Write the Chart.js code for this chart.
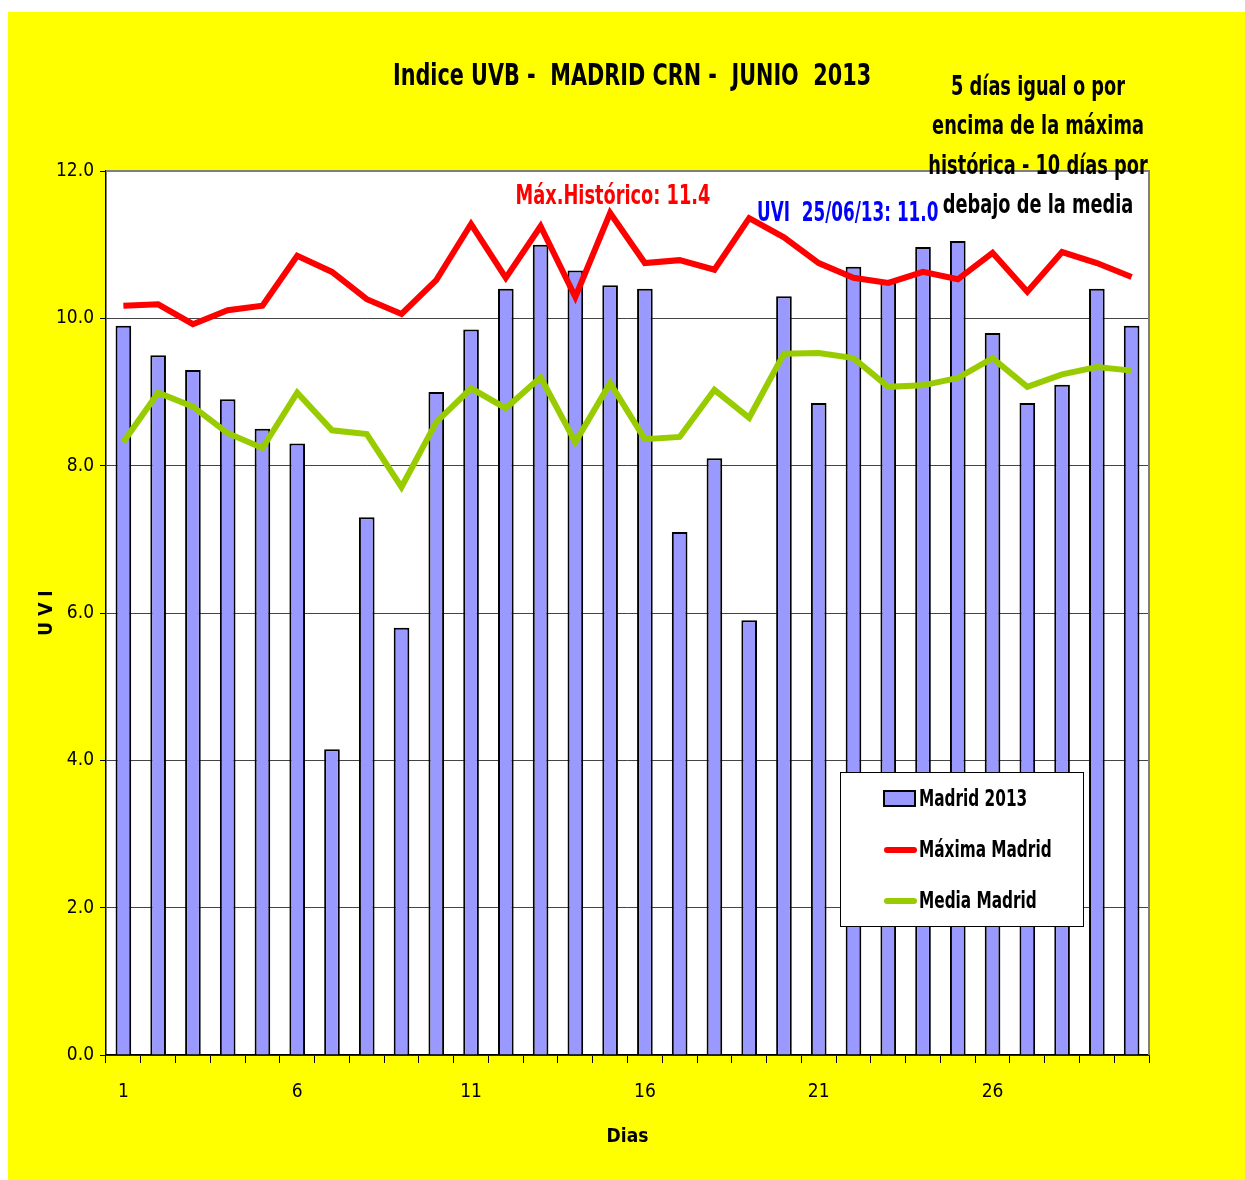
<!DOCTYPE html>
<html>
<head>
<meta charset="utf-8">
<script src="https://cdn.jsdelivr.net/npm/chart.js@4"></script>
<style>
  html, body { margin: 0; padding: 0; background: #fff; }
  #wrap { width: 1245px; height: 1180px; }
</style>
</head>
<body>
<div id="wrap"><canvas id="grafico" width="1245" height="1180"></canvas></div>
<script>
const dias = Array.from({ length: 30 }, (_, i) => String(i + 1));

const madrid2013 = [9.9, 9.5, 9.3, 8.9, 8.5, 8.3, 4.15, 7.3, 5.8, 9.0,
                    9.85, 10.4, 11.0, 10.65, 10.45, 10.4, 7.1, 8.1, 5.9, 10.3,
                    8.85, 10.7, 10.5, 10.97, 11.05, 9.8, 8.85, 9.1, 10.4, 9.9];

const maximaMadrid = [10.17, 10.19, 9.92, 10.11, 10.17, 10.85, 10.63, 10.26, 10.06, 10.52,
                      11.28, 10.55, 11.25, 10.29, 11.43, 10.75, 10.79, 10.66, 11.36, 11.1,
                      10.75, 10.55, 10.48, 10.63, 10.53, 10.89, 10.36, 10.9, 10.75, 10.56];

const mediaMadrid = [8.32, 8.99, 8.8, 8.44, 8.24, 8.99, 8.48, 8.43, 7.71, 8.59,
                     9.05, 8.78, 9.2, 8.32, 9.12, 8.36, 8.39, 9.03, 8.65, 9.52,
                     9.53, 9.46, 9.07, 9.09, 9.19, 9.46, 9.07, 9.24, 9.34, 9.29];

const etiquetasX = ["1", "6", "11", "16", "21", "26"];

const fuente = '"Liberation Sans Narrow", "DejaVu Sans Condensed", "Liberation Sans", sans-serif';

// texto estrechado a mano (no hay Arial Narrow)
function texto(ctx, str, x, y, sx) {
  ctx.save();
  ctx.translate(x, y);
  ctx.scale(sx, 1);
  ctx.fillText(str, 0, 0);
  ctx.restore();
}

// fondo amarillo, textos sueltos y leyenda
const decoracion = {
  id: "decoracion",
  beforeDraw(chart) {
    const { ctx, chartArea: a } = chart;
    ctx.save();
    ctx.fillStyle = "#ffffff";
    ctx.fillRect(0, 0, chart.width, chart.height);
    ctx.fillStyle = "#ffff00";
    ctx.fillRect(8, 12, chart.width - 8, chart.height - 12);
    ctx.fillStyle = "#ffffff";
    ctx.fillRect(a.left, a.top, a.right - a.left, a.bottom - a.top);
    ctx.restore();
  },
  afterDatasetsDraw(chart) {
    const { ctx, chartArea: a } = chart;
    ctx.save();
    // borde gris arriba y derecha
    ctx.strokeStyle = "#808080";
    ctx.lineWidth = 2;
    ctx.beginPath();
    ctx.moveTo(a.left, a.top);
    ctx.lineTo(a.right, a.top);
    ctx.lineTo(a.right, a.bottom);
    ctx.stroke();
    ctx.restore();
  },
  afterDraw(chart) {
    const { ctx } = chart;
    ctx.save();
    ctx.textAlign = "center";
    ctx.textBaseline = "middle";

    ctx.fillStyle = "#000";
    ctx.font = "bold 30px " + fuente;
    texto(ctx, "Indice UVB -  MADRID CRN -  JUNIO  2013", 632, 77, 0.77);

    ctx.font = "bold 26px " + fuente;
    const nota = ["5 días igual o por", "encima de la máxima", "histórica - 10 días por", "debajo de la media"];
    nota.forEach((t, i) => texto(ctx, t, 1038, 88 + i * 39.5, 0.76));

    ctx.fillStyle = "#ff0000";
    texto(ctx, "Máx.Histórico: 11.4", 613, 197, 0.76);

    ctx.fillStyle = "#0000ff";
    ctx.textAlign = "left";
    texto(ctx, "UVI  25/06/13: 11.0", 757, 214, 0.72);

    // leyenda
    const lx = 840, ly = 772, lw = 243, lh = 154;
    ctx.fillStyle = "#fff";
    ctx.fillRect(lx, ly, lw, lh);
    ctx.strokeStyle = "#000";
    ctx.lineWidth = 1;
    ctx.strokeRect(lx + 0.5, ly + 0.5, lw, lh);

    const ds = chart.data.datasets;
    ctx.font = "bold 23px " + fuente;
    ds.forEach((d, i) => {
      const y = 799 + i * 51;
      if (d.type === "bar") {
        ctx.fillStyle = d.backgroundColor;
        ctx.fillRect(884, y - 8, 31, 15);
        ctx.strokeStyle = "#000";
        ctx.lineWidth = 2;
        ctx.strokeRect(884, y - 8, 31, 15);
      } else {
        ctx.strokeStyle = d.borderColor;
        ctx.lineWidth = 6;
        ctx.lineCap = "round";
        ctx.beginPath();
        ctx.moveTo(887, y);
        ctx.lineTo(914, y);
        ctx.stroke();
      }
      ctx.fillStyle = "#000";
      texto(ctx, d.label, 919, y + 1, 0.74);
    });
    ctx.restore();
  }
};

new Chart(document.getElementById("grafico"), {
  data: {
    labels: dias,
    datasets: [
      {
        type: "bar",
        label: "Madrid 2013",
        data: madrid2013,
        backgroundColor: "#9999ff",
        borderColor: "#000000",
        borderWidth: 2,
        barPercentage: 0.45,
        categoryPercentage: 1,
        order: 2
      },
      {
        type: "line",
        label: "Máxima Madrid",
        data: maximaMadrid,
        borderColor: "#ff0000",
        borderWidth: 6,
        pointRadius: 0,
        tension: 0,
        order: 0
      },
      {
        type: "line",
        label: "Media Madrid",
        data: mediaMadrid,
        borderColor: "#99cc00",
        borderWidth: 6,
        pointRadius: 0,
        tension: 0,
        order: 1
      }
    ]
  },
  options: {
    responsive: false,
    animation: false,
    layout: { padding: { left: 30, right: 96, top: 171, bottom: 0 } },
    plugins: {
      legend: { display: false },
      tooltip: { enabled: false }
    },
    scales: {
      x: {
        offset: true,
        afterFit: s => { s.height = 125; },
        grid: {
          offset: true,
          drawOnChartArea: false,
          drawTicks: true,
          tickLength: 8,
          color: "#000"
        },
        border: { color: "#000", width: 1.5 },
        ticks: {
          autoSkip: false,
          maxRotation: 0,
          padding: 18,
          color: "#000",
          font: { family: fuente, size: 19 },
          callback: function (v) {
            const l = this.getLabelForValue(v);
            return etiquetasX.includes(l) ? l : "";
          }
        },
        title: {
          display: true,
          text: "Dias",
          color: "#000",
          font: { family: fuente, size: 19, weight: "bold" },
          padding: { top: 0, bottom: 32 }
        }
      },
      y: {
        min: 0,
        max: 12,
        afterFit: s => { s.width = 76; },
        grid: {
          color: "#444",
          lineWidth: 1,
          tickLength: 6,
          tickColor: "#000"
        },
        border: { color: "#000", width: 1.5 },
        ticks: {
          stepSize: 2,
          padding: 6,
          color: "#000",
          font: { family: fuente, size: 19 },
          callback: v => v.toFixed(1)
        },
        title: {
          display: true,
          text: "U V I",
          color: "#000",
          font: { family: fuente, size: 19, weight: "bold" },
          padding: { top: 6, bottom: 0 }
        }
      }
    }
  },
  plugins: [decoracion]
});
</script>
</body>
</html>
